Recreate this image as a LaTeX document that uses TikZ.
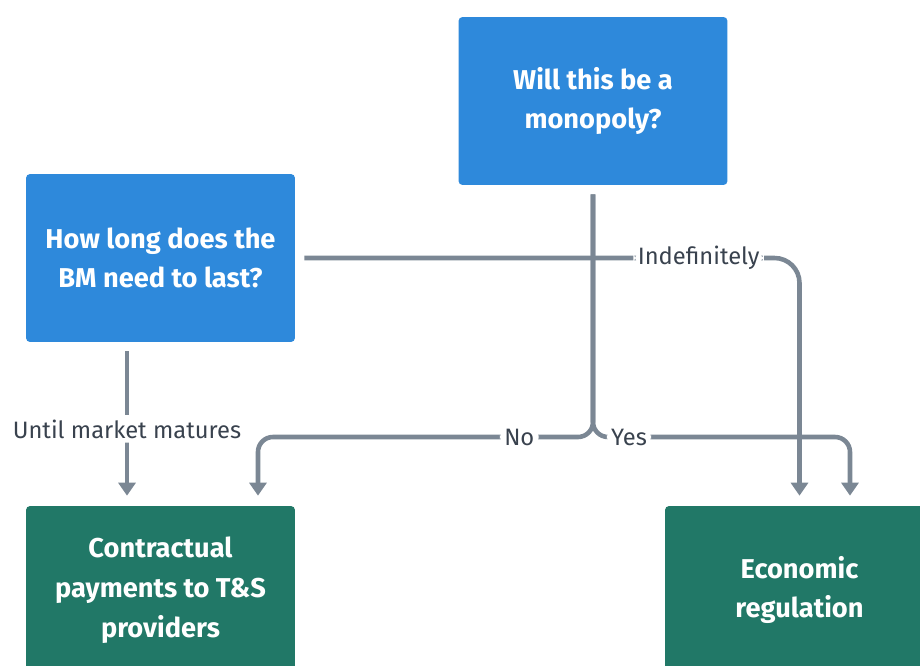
\documentclass[tikz,border=0pt]{standalone}
\usepackage{fontspec}
\setmainfont{Fira Sans}
\usepackage{tikz}
\usetikzlibrary{arrows.meta}
\definecolor{askblue}{HTML}{2E89DB}
\definecolor{endgreen}{HTML}{217867}
\definecolor{linegray}{HTML}{7B8794}
\definecolor{labelgray}{HTML}{39424E}

\begin{document}
\begin{tikzpicture}[x=0.02cm, y=-0.02cm,
  every node/.style={align=center},
  question/.style={rectangle, rounded corners=0.08cm, fill=askblue, text=white, minimum width=5.38cm, minimum height=3.36cm, font=\bfseries\fontsize{15.5}{22.6}\selectfont},
  outcome/.style={question, fill=endgreen},
  link/.style={draw=linegray, line width=2.6pt, rounded corners=0.5cm, -{Triangle[width=0.34cm,length=0.26cm]}, shorten <=0.18cm, shorten >=0.2cm},
  tag/.style={fill=white, text=labelgray, inner sep=2.5pt, font=\fontsize{13.5}{15}\selectfont}]
  \useasboundingbox (0,0) rectangle (920,666);
  \node[question] (howlong) at (160.5,258) {How long does the\\BM need to last?};
  \node[question] (monopoly) at (593,101) {Will this be a\\monopoly?};
  \node[outcome] (contract) at (160.5,590) {Contractual\\payments to T\&S\\providers};
  \node[outcome] (regulation) at (799.5,590) {Economic\\regulation};
  \coordinate (fork) at (593,437);
  % how long -> outcomes
  \draw[link] ([xshift=-0.67cm]howlong.south) -- node[tag, pos=0.53] {Until market matures} ([xshift=-0.67cm]contract.north);
  \draw[link] (howlong.east) -| node[tag, pos=0.4] {Indefinitely} (regulation.north);
  % monopoly -> outcomes
  \draw[link, rounded corners=0.3cm] (monopoly.south) -- (fork) -| node[tag, pos=0.11] {No} ([xshift=1.95cm]contract.north);
  \draw[link, rounded corners=0.3cm] (monopoly.south) -- (fork) -| node[tag, pos=0.07] {Yes} ([xshift=1.01cm]regulation.north);
\end{tikzpicture}
\end{document}
